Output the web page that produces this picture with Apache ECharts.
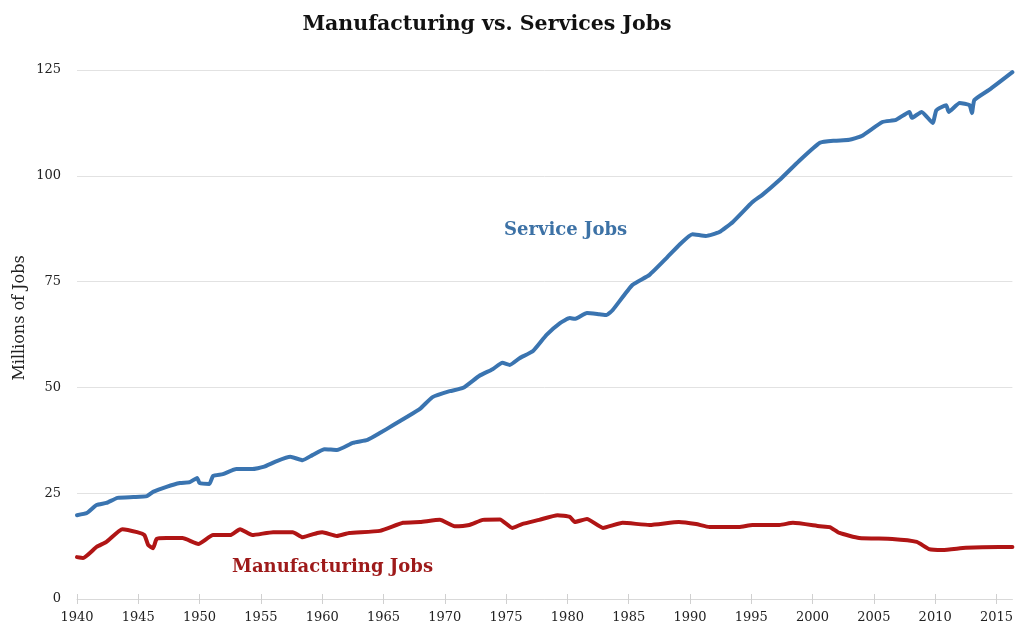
<!DOCTYPE html>
<html>
<head>
<meta charset="utf-8">
<script src="https://cdn.jsdelivr.net/npm/echarts@6/dist/echarts.min.js"></script>
<style>
html,body{margin:0;padding:0;background:#fff;}
#chart{width:1016px;height:627px;}
</style>
</head>
<body>
<div id="chart"></div>
<script>
var xTicks = [1940,1945,1950,1955,1960,1965,1970,1975,1980,1985,1990,1995,2000,2005,2010,2015];
var yTicks = [0,25,50,75,100,125];

var serviceYears = [1940.0,1940.8,1941.6,1942.4,1943.3,1944.6,1945.7,1946.2,1947.3,1948.4,1949.2,1949.8,1950.0,1950.8,1951.1,1951.9,1953.0,1954.3,1955.2,1956.3,1957.4,1958.4,1959.2,1960.2,1961.2,1962.5,1963.7,1964.7,1965.8,1966.9,1968.0,1969.0,1970.4,1971.5,1972.8,1973.9,1974.7,1975.3,1976.1,1977.2,1978.3,1979.4,1980.2,1980.6,1981.6,1982.6,1983.2,1983.7,1985.3,1986.7,1988.1,1989.1,1990.2,1991.3,1992.4,1993.5,1995.1,1995.9,1997.3,1998.9,2000.6,2001.8,2003.0,2004.0,2005.7,2006.8,2007.9,2008.1,2008.9,2009.8,2010.1,2010.9,2011.1,2012.0,2012.8,2013.0,2013.2,2014.4,2016.3];
var serviceValues = [19.8,20.3,22.2,22.7,23.9,24.1,24.3,25.3,26.5,27.4,27.6,28.6,27.4,27.2,29.1,29.5,30.7,30.7,31.2,32.6,33.6,32.8,34.0,35.4,35.2,36.9,37.6,39.2,41.1,43.0,45.0,47.7,49.1,49.9,52.7,54.3,55.8,55.3,56.9,58.6,62.4,65.2,66.4,66.2,67.6,67.3,67.1,68.3,74.2,76.6,80.6,83.6,86.2,85.8,86.7,89.1,93.8,95.5,99.0,103.5,107.8,108.3,108.5,109.4,112.7,113.2,115.1,113.7,115.1,112.5,115.5,116.7,115.1,117.2,116.7,114.8,117.9,120.3,124.5];

var mfgYears = [1940.0,1940.5,1941.6,1942.4,1943.7,1944.9,1945.5,1945.8,1946.2,1946.5,1947.3,1948.6,1949.9,1951.1,1952.5,1953.3,1954.3,1956.0,1957.6,1958.4,1959.6,1960.0,1961.2,1962.2,1964.7,1966.6,1968.0,1969.6,1970.8,1972.0,1973.1,1974.5,1975.5,1976.3,1977.7,1979.2,1980.2,1980.6,1981.6,1982.9,1984.5,1986.7,1989.1,1990.5,1991.6,1994.0,1995.1,1997.3,1998.4,2000.6,2001.4,2002.2,2003.8,2006.5,2008.5,2009.5,2010.6,2012.5,2015.2,2016.3];
var mfgValues = [9.9,9.7,12.3,13.5,16.5,15.8,15.1,12.8,12.0,14.2,14.4,14.4,13.0,15.1,15.1,16.5,15.1,15.8,15.8,14.6,15.6,15.8,14.9,15.6,16.1,18.0,18.2,18.7,17.2,17.5,18.7,18.8,16.8,17.7,18.7,19.8,19.4,18.2,18.9,16.8,18.0,17.5,18.2,17.7,17.0,17.0,17.5,17.5,18.0,17.2,17.0,15.6,14.4,14.2,13.5,11.8,11.6,12.1,12.3,12.3];

function zip(a, b){ return a.map(function(v,i){ return [v, b[i]]; }); }

var serif = '"DejaVu Serif","Liberation Serif",serif';
var chart = echarts.init(document.getElementById('chart'), null, {renderer:'canvas'});
chart.setOption({
  animation: false,
  backgroundColor: '#ffffff',
  title: {
    text: 'Manufacturing vs. Services Jobs',
    left: 482, top: 9, textAlign: 'center',
    textStyle: {fontFamily: serif, fontSize: 20.5, fontWeight: 'bold', color: '#111'}
  },
  grid: {left: 77, right: 3, top: 70, bottom: 28, containLabel: false},
  xAxis: [{
    type: 'value', min: 1940, max: 2016.3,
    axisLine: {show: true, lineStyle: {color: '#d9d9d9', width: 1}},
    axisTick: {show: true, length: 5, customValues: xTicks, lineStyle: {color: '#d0d0d0'}},
    axisLabel: {customValues: xTicks, formatter: function(v){ return String(v); }, color: '#222', fontFamily: serif, fontSize: 13, margin: 12},
    splitLine: {show: false}
  },{
    type: 'value', min: 1940, max: 2016.3, position: 'bottom',
    axisLine: {show: false},
    axisTick: {show: true, inside: true, length: 5, customValues: xTicks, lineStyle: {color: '#d0d0d0'}},
    axisLabel: {show: false},
    splitLine: {show: false}
  }],
  yAxis: {
    type: 'value', min: 0, max: 125, interval: 25,
    axisLine: {show: false}, axisTick: {show: false},
    axisLabel: {customValues: yTicks, color: '#222', fontFamily: serif, fontSize: 13, margin: 16},
    splitLine: {show: true, lineStyle: {color: '#e2e2e2', width: 1}}
  },
  series: [{
    name: 'Service Jobs', type: 'line', xAxisIndex: 0,
    data: zip(serviceYears, serviceValues), showSymbol: false, smooth: 0.15,
    lineStyle: {color: '#3a74b0', width: 4, join: 'round', cap: 'round'},
    z: 3
  },{
    name: 'Manufacturing Jobs', type: 'line', xAxisIndex: 0,
    data: zip(mfgYears, mfgValues), showSymbol: false, smooth: 0.15,
    lineStyle: {color: '#b01515', width: 4, join: 'round', cap: 'round'},
    z: 3
  }],
  graphic: [{
    type: 'text', x: 20, y: 318, rotation: Math.PI / 2,
    style: {text: 'Millions of Jobs', font: '16px ' + serif, fill: '#222', align: 'center', verticalAlign: 'middle'}
  },{
    type: 'text', left: 504, top: 221,
    style: {text: 'Service Jobs', font: 'bold 18px ' + serif, fill: '#3d72a6'}
  },{
    type: 'text', left: 232, top: 558,
    style: {text: 'Manufacturing Jobs', font: 'bold 18px ' + serif, fill: '#9e1a1a'}
  }]
});
</script>
</body>
</html>
